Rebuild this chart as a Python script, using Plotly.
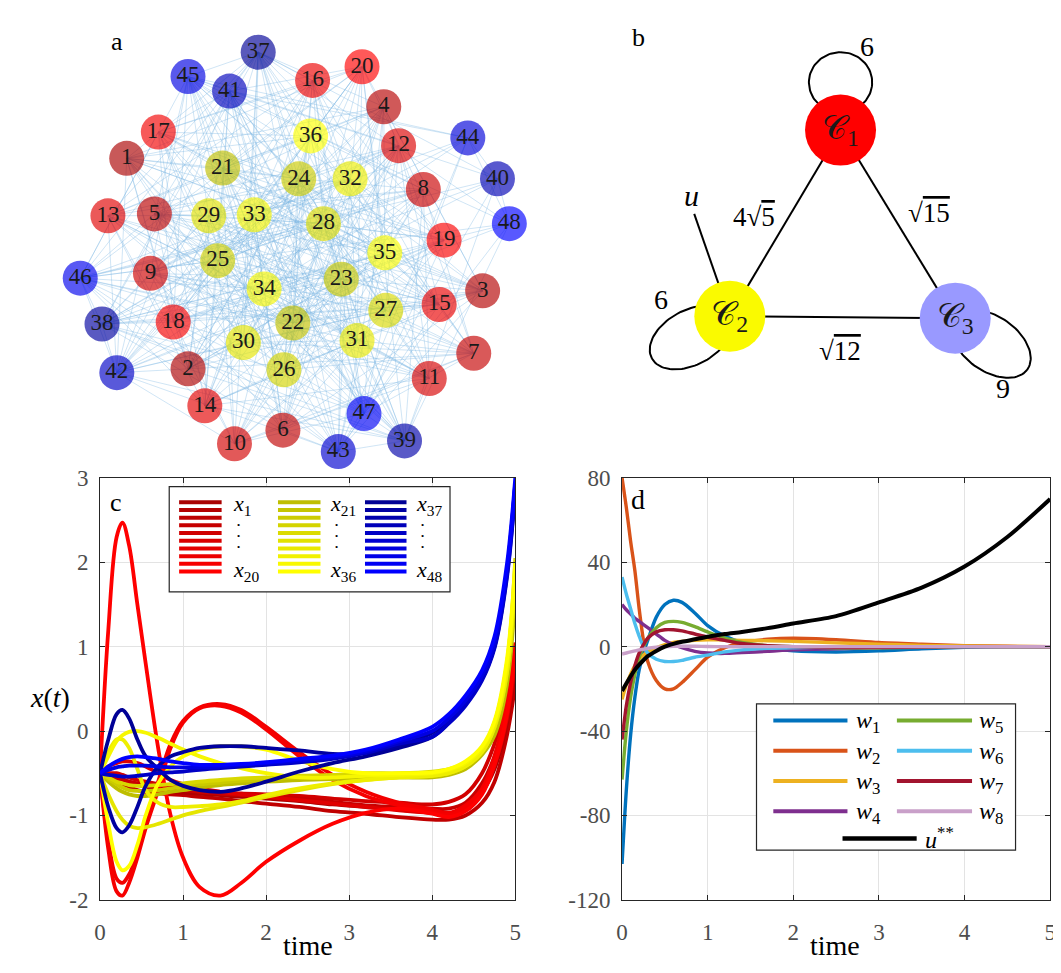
import numpy as np
import plotly.graph_objects as go

W, H = 1061, 973
FONT = "Liberation Serif"

# ---------------- panel a : network ----------------
node_ids = list(range(1, 49))
node_x = [114, 176, 474, 374, 142, 272, 465, 414, 138, 223, 420, 389, 95, 193, 430, 302, 146, 161, 435, 352,
          211, 282, 331, 288, 206, 273, 376, 313, 197, 232, 347, 340, 243, 253, 375, 300,
          247, 89, 395, 489, 218, 104, 328, 459, 176, 67, 354, 501]
node_y = [142, 358, 278, 89, 199, 421, 342, 174, 260, 435, 368, 129, 201, 396, 292, 62, 115, 310, 226, 48,
          152, 311, 266, 163, 247, 359, 298, 209, 201, 331, 329, 163, 200, 276, 239, 119,
          33, 312, 432, 163, 73, 362, 443, 121, 58, 265, 404, 209]
cluster_sizes = [20, 16, 12]
# neighbours that a node of cluster i has in cluster j
quotient = [[6, 8, 3],
            [10, 6, 3],
            [5, 4, 9]]
cluster_dark = [(170, 0, 0), (190, 190, 0), (0, 0, 150)]
cluster_bright = [(255, 0, 0), (255, 255, 0), (0, 0, 255)]

# ---------------- panel b : quotient graph ----------------
q_labels = ["𝒞<sub>1</sub>", "𝒞<sub>2</sub>", "𝒞<sub>3</sub>"]
q_x = [836, 724, 952]
q_y = [113, 304, 306]
q_colors = ["rgb(255,0,0)", "rgb(250,250,0)", "rgb(153,153,255)"]
q_edge_text = ["4√<span style='text-decoration:overline'>5</span>",
               "√<span style='text-decoration:overline'>15</span>",
               "√<span style='text-decoration:overline'>12</span>"]
q_loop_text = ["6", "6", "9"]

# ---------------- panel c : states ----------------
tc = [0, 0.1, 0.2, 0.27, 0.35, 0.45, 0.55, 0.7, 0.85, 1.0, 1.2, 1.45, 1.7, 2.0, 2.4, 2.8, 3.2, 3.6,
      4.0, 4.2, 4.4, 4.6, 4.75, 4.9, 5.0]
red_curves = {
    6: [-0.5, -0.55, -0.6, -0.63, -0.66, -0.7, -0.72, -0.74, -0.75, -0.76, -0.78, -0.8, -0.83, -0.86, -0.9,
        -0.95, -0.98, -1.02, -1.05, -1.05, -1.0, -0.85, -0.6, -0.05, 0.55],
    2: [-0.5, -0.52, -0.55, -0.57, -0.6, -0.63, -0.66, -0.7, -0.72, -0.73, -0.74, -0.76, -0.78, -0.8, -0.83,
        -0.87, -0.9, -0.93, -0.97, -0.98, -0.92, -0.72, -0.45, 0.1, 0.75],
    10: [-0.5, -0.5, -0.5, -0.52, -0.55, -0.58, -0.6, -0.63, -0.65, -0.67, -0.7, -0.72, -0.74, -0.75, -0.77,
         -0.8, -0.83, -0.85, -0.87, -0.84, -0.75, -0.5, -0.15, 0.35, 0.9],
    8: [-0.5, -0.53, -0.56, -0.58, -0.6, -0.62, -0.64, -0.67, -0.69, -0.7, -0.72, -0.74, -0.76, -0.78, -0.8,
        -0.84, -0.88, -0.9, -0.92, -0.92, -0.85, -0.62, -0.3, 0.22, 0.82],
    13: [-0.5, -0.42, -0.38, -0.36, -0.36, -0.38, -0.42, -0.5, -0.58, -0.63, -0.68, -0.72, -0.75, -0.78, -0.82,
         -0.86, -0.9, -0.94, -0.97, -0.98, -0.9, -0.7, -0.4, 0.15, 0.85],
    17: [-0.5, -1.3, -1.75, -1.8, -1.7, -1.45, -1.1, -0.6, -0.15, 0.12, 0.28, 0.32, 0.25, 0.05, -0.25,
         -0.52, -0.72, -0.85, -0.93, -0.97, -0.88, -0.68, -0.3, 0.35, 1.05],
    18: [-0.5, -1.4, -1.9, -1.95, -1.8, -1.5, -1.15, -0.7, -0.2, 0.1, 0.27, 0.3, 0.22, 0.02, -0.3,
         -0.58, -0.77, -0.88, -0.96, -1.0, -0.9, -0.7, -0.35, 0.3, 1.0],
    20: [-0.5, 1.2, 2.3, 2.47, 2.2, 1.5, 0.8, -0.2, -1.0, -1.5, -1.85, -1.95, -1.8, -1.55, -1.3,
         -1.1, -0.97, -0.92, -0.98, -1.02, -0.95, -0.75, -0.4, 0.2, 0.95],
}
yellow_curves = {
    21: [-0.5, -0.6, -0.68, -0.72, -0.75, -0.77, -0.77, -0.75, -0.72, -0.7, -0.67, -0.64, -0.62, -0.6, -0.58,
         -0.57, -0.56, -0.55, -0.55, -0.52, -0.45, -0.28, -0.05, 0.55, 1.6],
    24: [-0.5, -0.57, -0.63, -0.67, -0.7, -0.71, -0.71, -0.7, -0.68, -0.66, -0.63, -0.61, -0.59, -0.57, -0.55,
         -0.54, -0.53, -0.52, -0.51, -0.48, -0.41, -0.23, 0.03, 0.68, 1.8],
    27: [-0.5, -0.55, -0.6, -0.62, -0.64, -0.65, -0.65, -0.64, -0.63, -0.62, -0.6, -0.58, -0.56, -0.55, -0.53,
         -0.52, -0.5, -0.5, -0.48, -0.45, -0.38, -0.2, 0.1, 0.8, 2.05],
    30: [-0.5, -0.75, -0.95, -1.05, -1.12, -1.15, -1.14, -1.1, -1.05, -1.0, -0.95, -0.9, -0.85, -0.78, -0.7,
         -0.63, -0.58, -0.55, -0.53, -0.5, -0.42, -0.25, 0.05, 0.7, 1.85],
    32: [-0.5, -0.25, -0.1, -0.1, -0.2, -0.45, -0.7, -0.85, -0.9, -0.9, -0.89, -0.87, -0.83, -0.76, -0.68,
         -0.62, -0.58, -0.55, -0.53, -0.5, -0.42, -0.25, 0.05, 0.7, 1.9],
    34: [-0.5, -0.3, -0.12, -0.05, -0.01, 0.0, -0.02, -0.08, -0.15, -0.22, -0.3, -0.38, -0.44, -0.5, -0.55,
         -0.55, -0.53, -0.52, -0.5, -0.46, -0.38, -0.2, 0.1, 0.8, 1.95],
    36: [-0.5, -1.1, -1.55, -1.65, -1.6, -1.35, -1.0, -0.62, -0.42, -0.3, -0.22, -0.18, -0.18, -0.22, -0.35,
         -0.45, -0.5, -0.5, -0.49, -0.45, -0.36, -0.18, 0.12, 0.85, 2.0],
}
blue_curves = {
    37: [-0.5, -0.1, 0.2, 0.25, 0.15, -0.1, -0.3, -0.45, -0.58, -0.65, -0.7, -0.72, -0.68, -0.6, -0.48,
         -0.38, -0.3, -0.2, -0.07, 0.1, 0.32, 0.62, 1.0, 1.85, 2.88],
    38: [-0.5, -0.9, -1.15, -1.2, -1.12, -0.9, -0.65, -0.42, -0.3, -0.25, -0.2, -0.18, -0.18, -0.2, -0.23,
         -0.27, -0.26, -0.17, -0.02, 0.15, 0.36, 0.66, 1.05, 1.9, 2.95],
    42: [-0.5, -0.52, -0.53, -0.54, -0.54, -0.53, -0.52, -0.5, -0.49, -0.48, -0.46, -0.44, -0.42, -0.4, -0.37,
         -0.33, -0.26, -0.15, -0.07, 0.09, 0.3, 0.6, 0.98, 1.82, 2.85],
    45: [-0.5, -0.46, -0.43, -0.42, -0.41, -0.41, -0.41, -0.42, -0.43, -0.43, -0.43, -0.42, -0.4, -0.38, -0.35,
         -0.31, -0.24, -0.12, 0.0, 0.15, 0.36, 0.66, 1.05, 1.9, 2.93],
    48: [-0.5, -0.42, -0.36, -0.33, -0.31, -0.3, -0.31, -0.33, -0.36, -0.38, -0.4, -0.4, -0.39, -0.37, -0.33,
         -0.29, -0.22, -0.1, 0.05, 0.2, 0.42, 0.72, 1.12, 1.98, 3.0],
}
c_yticks = [-2, -1, 0, 1, 2, 3]
c_xticks = [0, 1, 2, 3, 4, 5]

# ---------------- panel d : controls ----------------
td = [0, 0.05, 0.1, 0.15, 0.2, 0.25, 0.3, 0.4, 0.5, 0.6, 0.7, 0.85, 1.0, 1.2, 1.4, 1.7, 2.0, 2.5, 3.0, 3.5,
      4.0, 4.5, 5.0]
w1 = [-103, -68, -42, -24, -11, -3, 3, 14, 20, 22, 21, 16, 10, 5, 2, -0.5, -2, -2.5, -2, -1, -0.3, 0, 0]
w2 = [80, 66, 50, 36, 18, 3, -7, -16, -20, -20, -17, -11, -5, -0.5, 2, 3.5, 4, 3.3, 2, 1.2, 0.5, 0.2, 0]
w3 = [-25, -18, -13, -9, -6, -4, -2.5, -0.5, 1, 2, 2.5, 3, 3.2, 3.2, 3, 2.8, 2.5, 1.8, 1.2, 0.6, 0.3, 0.1, 0]
w4 = [20, 17.5, 15.5, 13.5, 12, 10.5, 9, 6, 3, 1, -0.5, -2.2, -3, -3.2, -2.8, -2.2, -1.5, -1, -0.5, -0.2, 0, 0, 0]
w5 = [-63, -40, -24, -13, -5, 0, 4, 9, 11.5, 12, 11.5, 9.5, 7, 4, 2, 0.5, 0, -0.5, -0.5, -0.3, 0, 0, 0]
w6 = [33, 25, 18, 11, 5, 0, -3, -6, -7, -7, -6.5, -5, -4, -2.5, -1.5, -0.8, -0.5, -0.2, 0, 0, 0, 0, 0]
w7 = [-44, -28, -17, -9, -3, 1, 4, 7, 8, 8, 7.5, 6, 4.5, 3, 1.5, 0.5, 0, -0.3, -0.3, -0.2, 0, 0, 0]
w8 = [-3.5, -3, -2.5, -2, -1.5, -1.2, -0.8, -0.3, 0, 0.2, 0.2, 0.2, 0.1, 0, 0, 0, 0, 0, 0, 0, 0, 0, 0]
u_ss = [-21, -17.5, -14, -11, -8.5, -6.5, -4.5, -2, 0, 1.3, 2.3, 3.5, 4.7, 6, 7, 8.8, 11, 14.5, 21, 28, 38, 52, 70]
w_series = [w1, w2, w3, w4, w5, w6, w7, w8]
w_names = ["w1", "w2", "w3", "w4", "w5", "w6", "w7", "w8"]
w_colors = ["#0072BD", "#D95319", "#EDB120", "#7E2F8E", "#77AC30", "#4DBEEE", "#A2142F", "#C9A0C9"]
d_yticks = [-120, -80, -40, 0, 40, 80]
d_xticks = [0, 1, 2, 3, 4, 5]

# ================= build =================
fig = go.Figure()


def node_color(k, alpha=None):
    start = 0
    for ci, n in enumerate(cluster_sizes):
        if k - 1 < start + n:
            f = (k - 1 - start) / (n - 1)
            c = [int(round(d + f * (b - d))) for d, b in zip(cluster_dark[ci], cluster_bright[ci])]
            if alpha is None:
                return "rgb(%d,%d,%d)" % tuple(c)
            return "rgba(%d,%d,%d,%.2f)" % (c[0], c[1], c[2], alpha)
        start += n


# ---- edges from quotient structure (equitable partition) ----
offsets = np.cumsum([0] + cluster_sizes)
members = [list(range(offsets[i], offsets[i + 1])) for i in range(3)]
edges = set()
for i in range(3):
    n = cluster_sizes[i]
    d = quotient[i][i]
    shifts = list(range(1, d // 2 + 1)) + ([n // 2] if d % 2 else [])
    for a in range(n):
        for s in shifts:
            u, v = members[i][a], members[i][(a + s) % n]
            edges.add((min(u, v), max(u, v)))
    for j in range(i + 1, 3):
        da = quotient[i][j]
        nb = cluster_sizes[j]
        for e in range(n * da):
            a, b = e // da, (e * 5 + e // da) % nb
            edges.add((members[i][a], members[j][b]))
ex, ey = [], []
for u, v in sorted(edges):
    ex += [node_x[u], node_x[v], None]
    ey += [node_y[u], node_y[v], None]
fig.add_trace(go.Scatter(x=ex, y=ey, mode="lines", xaxis="x3", yaxis="y3",
                         line=dict(color="rgba(120,180,225,0.35)", width=1),
                         hoverinfo="skip", showlegend=False))
fig.add_trace(go.Scatter(
    x=node_x, y=node_y, mode="markers+text", xaxis="x3", yaxis="y3",
    text=[str(k) for k in node_ids], textposition="middle center",
    textfont=dict(family=FONT, size=23, color="#1a1a1a"),
    marker=dict(size=35, color=[node_color(k, 0.65) for k in node_ids], line=dict(width=0)),
    showlegend=False, hoverinfo="text"))

# ---- panel b ----
pairs = [(0, 1), (0, 2), (1, 2)]
for a, b in pairs:
    fig.add_trace(go.Scatter(x=[q_x[a], q_x[b]], y=[q_y[a], q_y[b]], mode="lines",
                             xaxis="x3", yaxis="y3", line=dict(color="black", width=2),
                             showlegend=False, hoverinfo="skip"))
u_end = (688, 199)
fig.add_trace(go.Scatter(x=[q_x[1], u_end[0]], y=[q_y[1], u_end[1]], mode="lines",
                         xaxis="x3", yaxis="y3", line=dict(color="black", width=2),
                         showlegend=False, hoverinfo="skip"))
loop_geom = [(-90, 49, 31, 32), (151, 45, 45, 28), (36, 45, 45, 28)]
th = np.linspace(0, 2 * np.pi, 100)
for k, (ang, dist, ra, rb) in enumerate(loop_geom):
    a = np.radians(ang)
    ux, uy = np.cos(a), np.sin(a)
    cx, cy = q_x[k] + dist * ux, q_y[k] + dist * uy
    lx = cx + ra * np.cos(th) * ux - rb * np.sin(th) * uy
    ly = cy + ra * np.cos(th) * uy + rb * np.sin(th) * ux
    fig.add_trace(go.Scatter(x=lx, y=ly, mode="lines", xaxis="x3", yaxis="y3",
                             line=dict(color="black", width=2), showlegend=False, hoverinfo="skip"))
fig.add_trace(go.Scatter(x=q_x, y=q_y, mode="markers+text", xaxis="x3", yaxis="y3",
                         text=q_labels, textposition="middle center",
                         textfont=dict(family=FONT, size=34, color="#1a1a1a"),
                         marker=dict(size=71, color=q_colors, line=dict(width=0)),
                         showlegend=False, hoverinfo="skip"))

# ---- panel c ----
for group in (red_curves, yellow_curves, blue_curves):
    for k, vals in group.items():
        fig.add_trace(go.Scatter(x=tc, y=vals, mode="lines", xaxis="x", yaxis="y",
                                 line=dict(color=node_color(k), width=3.8, shape="spline", smoothing=1.0),
                                 showlegend=False, name="x%d" % k))

# ---- panel d ----
for name, vals, col in zip(w_names, w_series, w_colors):
    fig.add_trace(go.Scatter(x=td, y=vals, mode="lines", xaxis="x2", yaxis="y2",
                             line=dict(color=col, width=3.4, shape="spline", smoothing=0.8),
                             showlegend=False, name=name))
fig.add_trace(go.Scatter(x=td, y=u_ss, mode="lines", xaxis="x2", yaxis="y2",
                         line=dict(color="black", width=4, shape="spline", smoothing=0.8),
                         showlegend=False, name="u**"))


def px(x):
    return x / W


def py(y):
    return 1 - y / H


axis_common = dict(showline=True, linecolor="#262626", linewidth=1, mirror="ticks", ticks="inside",
                   ticklen=5, tickcolor="#262626", showgrid=True, gridcolor="#e3e3e3", zeroline=False,
                   tickfont=dict(family=FONT, size=23, color="#4d4d4d"), fixedrange=True)

fig.update_layout(
    width=W, height=H, margin=dict(l=0, r=0, t=0, b=0),
    paper_bgcolor="white", plot_bgcolor="rgba(0,0,0,0)",
    font=dict(family=FONT, color="black"),
    xaxis=dict(domain=[px(87), px(507)], range=[0, 5], tickvals=c_xticks, anchor="y",
               ticklabelstandoff=12, **axis_common),
    yaxis=dict(domain=[py(903), py(470)], range=[-2, 3], tickvals=c_yticks,
               ticktext=[str(v) for v in c_yticks], anchor="x", ticklabelstandoff=6, **axis_common),
    xaxis2=dict(domain=[px(615), px(1048)], range=[0, 5], tickvals=d_xticks, anchor="y2",
                ticklabelstandoff=12, **axis_common),
    yaxis2=dict(domain=[py(903), py(470)], range=[-120, 80], tickvals=d_yticks,
                ticktext=[str(v) for v in d_yticks], anchor="x2", ticklabelstandoff=6, **axis_common),
    xaxis3=dict(domain=[0, 1], range=[0, W], visible=False, anchor="y3", fixedrange=True),
    yaxis3=dict(domain=[0, 1], range=[H, 0], visible=False, anchor="x3", fixedrange=True),
)

ann = []
shapes = []


def text(x, y, s, size=22, xanchor="center", color="black"):
    ann.append(dict(x=px(x), y=py(y), xref="paper", yref="paper", text=s, showarrow=False,
                    xanchor=xanchor, yanchor="middle", font=dict(family=FONT, size=size, color=color)))


def hline(x0, x1, y, color, width):
    shapes.append(dict(type="line", xref="paper", yref="paper", x0=px(x0), x1=px(x1), y0=py(y), y1=py(y),
                       line=dict(color=color, width=width), layer="above"))


def box(x0, x1, y0, y1):
    shapes.append(dict(type="rect", xref="paper", yref="paper", x0=px(x0), x1=px(x1), y0=py(y1), y1=py(y0),
                       line=dict(color="#262626", width=1.2), fillcolor="white", layer="above"))


# panel letters
text(104, 22, "a", 26)
text(632, 18, "b", 26)
text(103, 495, "c", 26)
text(631, 492, "d", 28)
# panel b labels
text(863, 27, q_loop_text[0], 28)
text(654, 287, q_loop_text[1], 28)
text(1000, 378, q_loop_text[2], 28)
text(748, 202, q_edge_text[0], 27)
text(925, 198, q_edge_text[1], 27)
text(835, 340, q_edge_text[2], 27)
text(685, 180, "<i>u</i>", 30)
# axis titles
text(297, 950, "time", 28)
text(830, 950, "time", 28)
text(36, 695, "<i>x</i>(<i>t</i>)", 28)

# legend c
box(157, 441, 479, 587)
leg_cols = [(167, 210, 219, 1, 20), (267, 310, 318, 21, 36), (355, 397, 405, 37, 48)]
for ci, (x0, x1, lx, first, last) in enumerate(leg_cols):
    for r in range(10):
        yy = 495 + r * 7.9
        f = r / 9
        c = [int(round(d + f * (b - d))) for d, b in zip(cluster_dark[ci], cluster_bright[ci])]
        hline(x0, x1, yy, "rgb(%d,%d,%d)" % tuple(c), 4)
    text(lx, 498, "<i>x</i><sub>%d</sub>" % first, 22, "left")
    text(lx, 566, "<i>x</i><sub>%d</sub>" % last, 22, "left")
    for yy in (518, 530, 541):
        text(lx + 8, yy, "•", 9)

# legend d
box(751, 1013, 702, 852)
rows = [719, 750, 781, 812]
for i, (name, col) in enumerate(zip(w_names, w_colors)):
    cc, rr = divmod(i, 4)
    sx0, sx1, lx = (768, 843, 850) if cc == 0 else (893, 969, 974)
    yy = rows[rr]
    hline(sx0, sx1, yy, col, 4)
    text(lx, yy + 2, "<i>w</i><sub>%s</sub>" % name[1:], 24, "left")
hline(838, 913, 840, "black", 4.5)
text(919, 840, "<i>u</i><sup>**</sup>", 24, "left")

fig.update_layout(annotations=ann, shapes=shapes)
fig.write_html("out.html")
